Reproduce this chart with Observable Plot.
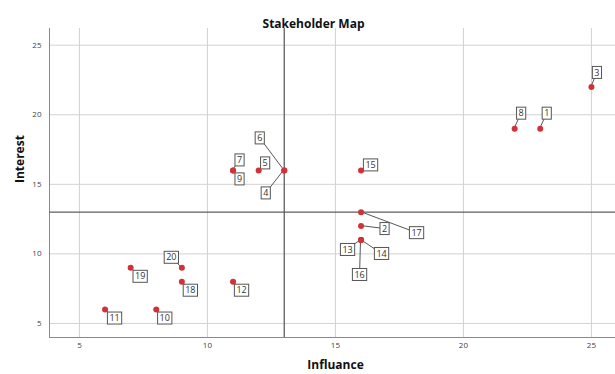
<!DOCTYPE html>
<html><head><meta charset="utf-8">
<script src="https://cdn.jsdelivr.net/npm/d3@7"></script>
<script src="https://cdn.jsdelivr.net/npm/@observablehq/plot@0.6"></script>
<style>
body{margin:0;background:#fff;}
#chart svg{display:block;}
</style></head><body><div id="chart"></div>
<script>
// ---- data ----
const stakeholders = [1,2,3,4,5,6,7,8,9,10,11,12,13,14,15,16,17,18,19,20];
const influance   = [23,16,25,13,12,13,11,22,11, 8, 6,11,16,16,16,16,16, 9, 7, 9];
const interest    = [19,12,22,16,16,16,16,19,16, 6, 6, 8,11,11,16,11,13, 8, 9, 9];
const xTicks = [5,10,15,20,25];
const yTicks = [5,10,15,20,25];
const threshold = 13;
const title = "Stakeholder Map";
const xLabel = "Influance";
const yLabel = "Interest";

// ---- layout (label box offsets from each point, in px) ----
const labelOffsets = [[7,-15],[24,3],[6,-14],[-18,23],[7,-7],[-24,-32],[7,-10],[7,-15],[7,9],[9,9],
                      [10,9],[9,9],[-13,10],[21,14],[10,-5],[-1,35],[56,21],[9,9],[10,9],[-10,-10]];

const rows = stakeholders.map((id, i) => ({id, influance: influance[i], interest: interest[i], off: labelOffsets[i]}));
const xDomain = [3.83, 25.94];
const yDomain = [3.99, 26.2];
const font = "'Open Sans', sans-serif";

const plot = Plot.plot({
  width: 615, height: 374,
  marginLeft: 49, marginRight: 0, marginTop: 28, marginBottom: 37,
  style: {fontFamily: font, fontSize: "8px", color: "#444", background: "#fff"},
  x: {domain: xDomain, label: null},
  y: {domain: yDomain, label: null},
  marks: [
    Plot.gridX(xTicks, {stroke: "#d2d2d2", strokeOpacity: 1}),
    Plot.gridY(yTicks, {stroke: "#d2d2d2", strokeOpacity: 1}),
    Plot.ruleX([xDomain[0]], {stroke: "#8a8a8a"}),
    Plot.ruleY([yDomain[0]], {stroke: "#8a8a8a"}),
    Plot.ruleX([threshold], {stroke: "#5e5e5e", strokeWidth: 1.3}),
    Plot.ruleY([threshold], {stroke: "#5e5e5e", strokeWidth: 1.3}),
    Plot.axisX(xTicks, {tickSize: 0, tickPadding: 5, label: null, fill: "#444"}),
    Plot.axisY(yTicks, {tickSize: 0, tickPadding: 8, label: null, fill: "#444"}),
    Plot.dot(rows, {x: "influance", y: "interest", r: 3, fill: "#cf3339", stroke: null}),
    Plot.text([title], {text: d => d, frameAnchor: "top", dy: -9, dx: -19, fontWeight: "bold", fontSize: 12, fill: "#111"}),
    Plot.text([xLabel], {text: d => d, frameAnchor: "bottom", dy: 31, dx: 3, fontWeight: "bold", fontSize: 12, fill: "#111"}),
    Plot.text([yLabel], {text: d => d, frameAnchor: "left", dx: -29, rotate: -90, fontWeight: "bold", fontSize: 12, fill: "#111"})
  ]
});
document.getElementById("chart").appendChild(plot);

// ---- label boxes with leader lines, positioned via Plot's own scales ----
const sx = plot.scale("x"), sy = plot.scale("y");
const svg = d3.select(plot);
const layer = svg.insert("g", "[aria-label=dot]").attr("class", "labels");
rows.forEach(r => {
  const px = sx.apply(r.influance), py = sy.apply(r.interest);
  const cx = px + r.off[0], cy = py + r.off[1];
  layer.append("line").attr("x1", px).attr("y1", py).attr("x2", cx).attr("y2", cy)
    .attr("stroke", "#444").attr("stroke-width", 0.9);
});
rows.forEach(r => {
  const px = sx.apply(r.influance), py = sy.apply(r.interest);
  const cx = px + r.off[0], cy = py + r.off[1];
  const g = layer.append("g");
  const rect = g.append("rect");
  const t = g.append("text").attr("x", cx).attr("y", cy).attr("dy", "0.35em")
    .attr("text-anchor", "middle").attr("font-family", font).attr("font-size", 9).attr("fill", "#333").text(r.id);
  const bb = t.node().getBBox();
  const w = bb.width + 4, h = 12;
  rect.attr("x", cx - w / 2).attr("y", cy - h / 2).attr("width", w).attr("height", h)
    .attr("fill", "#fff").attr("stroke", "#555").attr("stroke-width", 1);
});
</script>
</body></html>
